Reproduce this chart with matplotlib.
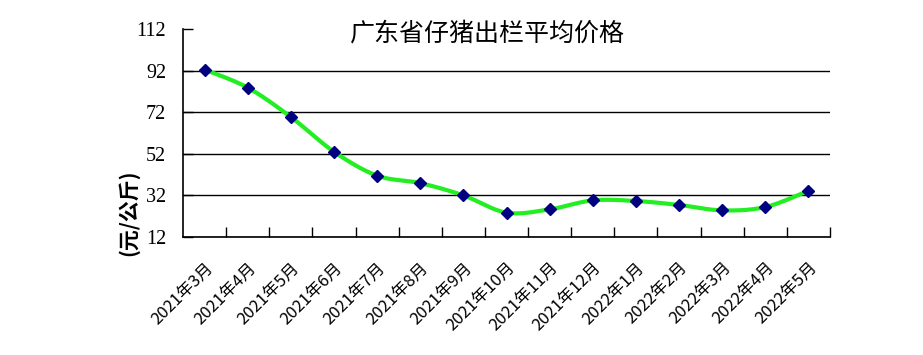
import numpy as np
import matplotlib
matplotlib.use("Agg")
import matplotlib.pyplot as plt

categories = ["2021年3月", "2021年4月", "2021年5月", "2021年6月", "2021年7月",
              "2021年8月", "2021年9月", "2021年10月", "2021年11月", "2021年12月",
              "2022年1月", "2022年2月", "2022年3月", "2022年4月", "2022年5月"]
prices = [92.5, 83.8, 69.7, 53.0, 41.5, 37.9, 32.0, 23.7, 25.3, 29.6,
          29.3, 27.4, 24.8, 26.4, 34.2]
yticks = [12, 32, 52, 72, 92, 112]
title = "广东省仔猪出栏平均价格"
ylabel = "(元/公斤)"

plt.rcParams['font.family'] = ['Noto Sans CJK SC', 'DejaVu Sans']

fig = plt.figure(figsize=(9.23, 3.55), dpi=100)
ax = fig.add_axes([183/923, 1-237/355, (830-183)/923, (237-29)/355])

x = np.arange(len(prices), dtype=float)
y = np.array(prices, dtype=float)

# Catmull-Rom style smoothing (like spreadsheet smoothed lines)
def smooth(xs, ys, n=30):
    px = np.concatenate([[xs[0]], xs, [xs[-1]]])
    py = np.concatenate([[ys[0]], ys, [ys[-1]]])
    outx, outy = [], []
    for i in range(1, len(px) - 2):
        p0x, p1x, p2x, p3x = px[i-1], px[i], px[i+1], px[i+2]
        p0y, p1y, p2y, p3y = py[i-1], py[i], py[i+1], py[i+2]
        c1x = p1x + (p2x - p0x) / 6
        c1y = p1y + (p2y - p0y) / 6
        c2x = p2x - (p3x - p1x) / 6
        c2y = p2y - (p3y - p1y) / 6
        t = np.linspace(0, 1, n)
        bx = (1-t)**3*p1x + 3*(1-t)**2*t*c1x + 3*(1-t)*t**2*c2x + t**3*p2x
        by = (1-t)**3*p1y + 3*(1-t)**2*t*c1y + 3*(1-t)*t**2*c2y + t**3*p2y
        outx.extend(bx); outy.extend(by)
    return np.array(outx), np.array(outy)

sx, sy = smooth(x, y)
ax.plot(sx, sy, color='#22ee22', lw=3, zorder=3, solid_capstyle='round')
ax.plot(x, y, linestyle='none', marker='D', markersize=6.5, color='#000080', zorder=4)

ax.set_xlim(-0.5, len(prices) - 0.5)
ax.set_ylim(yticks[0], yticks[-1])
ax.set_yticks(yticks)
ax.set_yticklabels([str(v) for v in yticks], family=['Liberation Serif'], fontsize=14.5)
ax.grid(axis='y', color='black', lw=1)
ax.yaxis.get_gridlines()[-1].set_visible(False)
ax.set_axisbelow(True)
ax.tick_params(axis='y', direction='in', length=7, width=1, pad=12, colors='black')

ax.set_xticks(x)
ax.set_xticklabels(categories, rotation=45, ha='right', va='top',
                   rotation_mode='anchor', fontsize=12)
ax.set_xticks(np.arange(0.5, len(prices) - 0.4, 1.0), minor=True)
ax.tick_params(axis='x', which='major', length=0, pad=16)
ax.tick_params(axis='x', which='minor', direction='in', length=7, width=1)

for s in ['top', 'right']:
    ax.spines[s].set_visible(False)
for s in ['left', 'bottom']:
    ax.spines[s].set_linewidth(1.2)
    ax.spines[s].set_color('black')

fig.text(487/923, 1-34/355, title, ha='center', va='center', fontsize=18)
fig.text(128/923, 1-213/355, ylabel, ha='center', va='center', rotation=90,
         fontsize=15, fontweight='bold')

fig.savefig('out.png', dpi=100)
